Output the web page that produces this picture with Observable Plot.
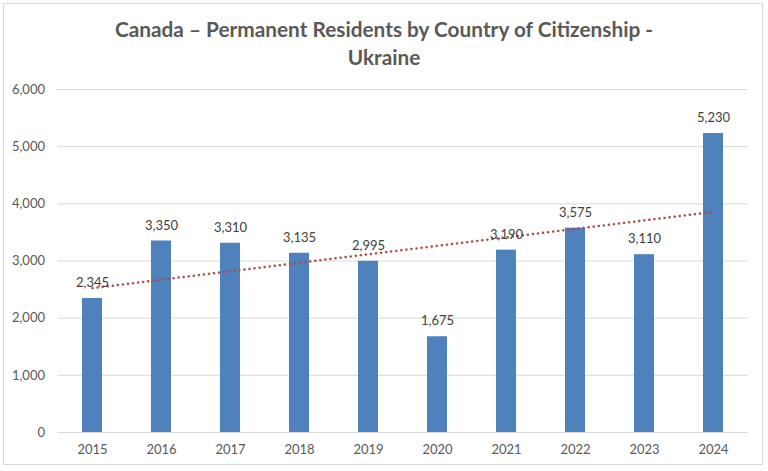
<!DOCTYPE html>
<html>
<head>
<meta charset="utf-8">
<script src="https://cdn.jsdelivr.net/npm/d3@7"></script>
<script src="https://cdn.jsdelivr.net/npm/@observablehq/plot@0.6"></script>
<style>
  html, body { margin: 0; padding: 0; background: #fff; }
  #frame { position: absolute; left: 3px; top: 3px; width: 760px; height: 462px; border: 1px solid #d9d9d9; box-sizing: border-box; }
  #wrap { position: absolute; left: 0; top: 0; width: 768px; height: 471px; }
  #title { height: 75px; box-sizing: border-box; padding-top: 15px; text-align: center; font-family: Lato, sans-serif; font-weight: bold; font-size: 20.8px; line-height: 28px; color: #595959; }
  #chart svg { display: block; }
</style>
</head>
<body>
<div id="frame"></div>
<div id="wrap">
  <div id="title">Canada – Permanent Residents by Country of Citizenship -<br>Ukraine</div>
  <div id="chart"></div>
</div>
<script>
const years = ["2015","2016","2017","2018","2019","2020","2021","2022","2023","2024"];
const residents = [2345, 3350, 3310, 3135, 2995, 1675, 3190, 3575, 3110, 5230];
const yTicks = [0, 1000, 2000, 3000, 4000, 5000, 6000];

const data = years.map((y, i) => ({year: y, value: residents[i], i}));

// Linear trendline (least squares) over category index, as Excel does
const mx = d3.mean(data, d => d.i), my = d3.mean(data, d => d.value);
const slope = d3.sum(data, d => (d.i - mx) * (d.value - my)) / d3.sum(data, d => (d.i - mx) ** 2);
const intercept = my - slope * mx;
const trend = data.map(d => ({year: d.year, value: intercept + slope * d.i}));

const fmt = d3.format(",");

const chart = Plot.plot({
  width: 768,
  height: 396,
  marginTop: 14,
  marginBottom: 39,
  marginLeft: 57.5,
  marginRight: 20.5,
  style: {fontFamily: "Lato, sans-serif", fontSize: "13px", color: "#595959", background: "transparent"},
  x: {domain: years, paddingInner: 0.71, paddingOuter: 0.355, label: null, tickSize: 0, tickPadding: 12},
  y: {domain: [0, 6000], ticks: yTicks, tickFormat: fmt, label: null, tickSize: 0, tickPadding: 13},
  marks: [
    Plot.ruleY(yTicks, {stroke: "#d9d9d9", strokeWidth: 1}),
    Plot.barY(data, {x: "year", y: "value", fill: "#4f81bd"}),
    Plot.line(trend, {x: "year", y: "value", stroke: "#b04a48", strokeWidth: 2.5, strokeDasharray: "0.1,5", strokeLinecap: "round"}),
    Plot.text(data, {x: "year", y: "value", text: d => fmt(d.value), dy: -15.5, fill: "#404040", fontSize: 13})
  ]
});
document.getElementById("chart").appendChild(chart);
</script>
</body>
</html>
